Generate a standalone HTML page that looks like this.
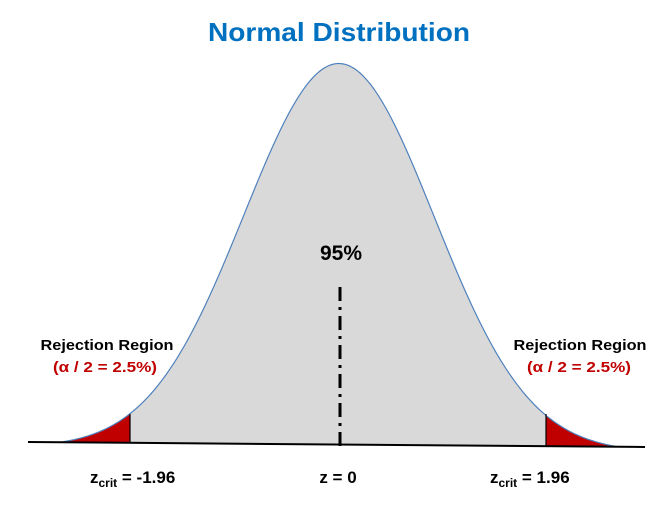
<!DOCTYPE html>
<html><head><meta charset="utf-8"><style>
html,body{margin:0;padding:0;background:#fff;}
svg{display:block;}
text{font-family:"Liberation Sans",sans-serif;font-weight:bold;}
</style></head><body>
<svg id="s" width="663" height="506" viewBox="0 0 663 506" xmlns="http://www.w3.org/2000/svg">
<defs><clipPath id="cl"><rect x="0" y="0" width="130" height="506"/></clipPath>
<clipPath id="cr"><rect x="546" y="0" width="120" height="506"/></clipPath></defs>
<path id="fill" fill="#d9d9d9" stroke="none"/>
<g clip-path="url(#cl)"><path id="redl" fill="#c00000"/></g>
<g clip-path="url(#cr)"><path id="redr" fill="#c00000"/></g>
<path id="curve" fill="none" stroke="#4f81bd" stroke-width="1.2"/>
<line x1="130" y1="414" x2="130" y2="443" stroke="#000" stroke-width="1.2"/>
<line x1="546" y1="414" x2="546" y2="446" stroke="#000" stroke-width="1.2"/>
<line x1="28" y1="442" x2="645" y2="447" stroke="#000" stroke-width="2"/>
<line x1="340" y1="287" x2="340" y2="452" stroke="#000" stroke-width="3" stroke-dasharray="14,6,3,6"/>
<text x="339" y="41" font-size="26" fill="#0070c0" text-anchor="middle" textLength="262" lengthAdjust="spacingAndGlyphs">Normal Distribution</text>
<text x="341" y="260" font-size="21" fill="#000" text-anchor="middle">95%</text>
<text x="107" y="350" font-size="15" fill="#000" text-anchor="middle" textLength="133" lengthAdjust="spacingAndGlyphs">Rejection Region</text>
<text x="105" y="372" font-size="15" fill="#c00000" text-anchor="middle" textLength="104" lengthAdjust="spacingAndGlyphs">(α / 2 = 2.5%)</text>
<text x="580" y="350" font-size="15" fill="#000" text-anchor="middle" textLength="133" lengthAdjust="spacingAndGlyphs">Rejection Region</text>
<text x="579" y="372" font-size="15" fill="#c00000" text-anchor="middle" textLength="104" lengthAdjust="spacingAndGlyphs">(α / 2 = 2.5%)</text>
<text x="90" y="483" font-size="17" fill="#000">z<tspan font-size="12" dy="4">crit</tspan><tspan dy="-4"> = -1.96</tspan></text>
<text x="338" y="483" font-size="17" fill="#000" text-anchor="middle">z = 0</text>
<text x="490" y="483" font-size="17" fill="#000">z<tspan font-size="12" dy="4">crit</tspan><tspan dy="-4"> = 1.96</tspan></text>
</svg>
<script>
function base(x){return 442+5*(x-28)/617;}
var e0=Math.exp(-Math.pow(279/95,2)/2);
var pts=[];
for(var x=60;x<=618;x+=2){var z=(x-339)/95;var g=(Math.exp(-z*z/2)-e0)/(1-e0);if(g<0)g=0;var y=base(x)-381*g;pts.push(x.toFixed(1)+","+y.toFixed(2));}
var d="M"+pts.join(" L");
document.getElementById('curve').setAttribute('d',d);
var f=d+" L618,"+base(618)+" L60,"+base(60)+" Z";
document.getElementById('fill').setAttribute('d',f);
document.getElementById('redl').setAttribute('d',f);
document.getElementById('redr').setAttribute('d',f);
</script>
</body></html>
